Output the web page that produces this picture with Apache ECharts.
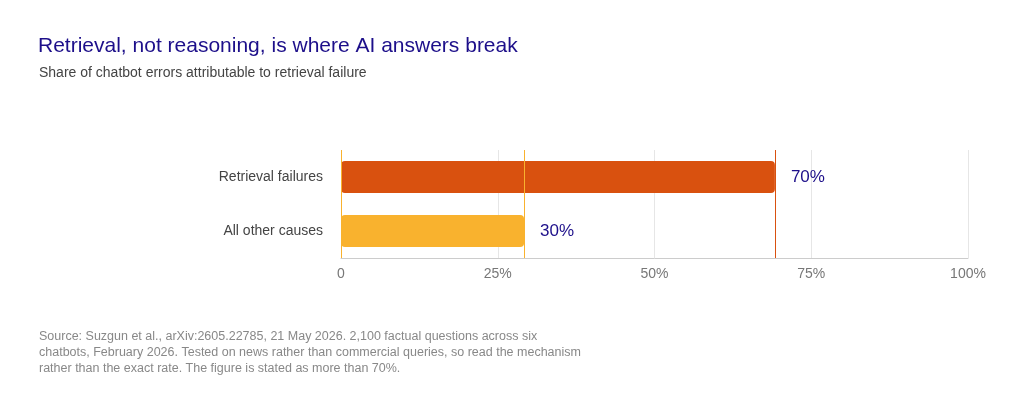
<!DOCTYPE html><html><head><meta charset="utf-8"><script src="https://cdn.jsdelivr.net/npm/echarts@6/dist/echarts.min.js"></script></head><body style="margin:0;background:#fff"><div id="c" style="width:1024px;height:400px"></div><script>
var categories=["Retrieval failures","All other causes"];
var values=[69.2,29.2];
var valueLabels=["70%","30%"];
var colors=["#d9510f","#f9b22e"];
var xTicks=[0,25,50,75,100];
var F="Liberation Sans";
var ch=echarts.init(document.getElementById('c'));
ch.setOption({
 animation:false,
 title:[{text:"Retrieval, not reasoning, is where AI answers break",left:33,top:31,textStyle:{fontFamily:F,fontSize:21,fontWeight:"normal",color:"#1d0f8a"}},
  {text:"Share of chatbot errors attributable to retrieval failure",left:34,top:61,textStyle:{fontFamily:F,fontSize:14,fontWeight:"normal",color:"#444"}},
  {text:"Source: Suzgun et al., arXiv:2605.22785, 21 May 2026. 2,100 factual questions across six\nchatbots, February 2026. Tested on news rather than commercial queries, so read the mechanism\nrather than the exact rate. The figure is stated as more than 70%.",left:34,top:324,textStyle:{fontFamily:F,fontSize:12.5,fontWeight:"normal",color:"#888",lineHeight:16}}],
 grid:{left:341,right:56,top:150,bottom:142},
 xAxis:{type:'value',min:0,max:100,interval:25,axisLabel:{formatter:function(v){return xTicks.indexOf(v)>=0?(v===0?'0':v+'%'):''},color:'#777',fontSize:14,fontFamily:F,margin:9},
  splitLine:{lineStyle:{color:'#e6e6e6'}},axisLine:{show:true,lineStyle:{color:'#ccc'}}},
 yAxis:{type:'category',inverse:true,data:categories,axisLine:{show:false},axisTick:{show:false},axisLabel:{color:'#444',fontSize:14,fontFamily:F,margin:18}},
 series:[{type:'bar',barWidth:32,data:values.map(function(v,i){return{value:v,itemStyle:{color:colors[i],borderRadius:4},label:{formatter:valueLabels[i]}}}),
  label:{show:true,position:'right',distance:16,color:'#1d0f8a',fontSize:17,fontFamily:F},
  markLine:{symbol:'none',silent:true,label:{show:false},lineStyle:{color:colors[0],type:'solid',width:1,opacity:1},data:[{xAxis:0,lineStyle:{color:colors[1]}},{xAxis:values[0]},{xAxis:values[1],lineStyle:{color:colors[1]}}]}}]
});
</script></body></html>
